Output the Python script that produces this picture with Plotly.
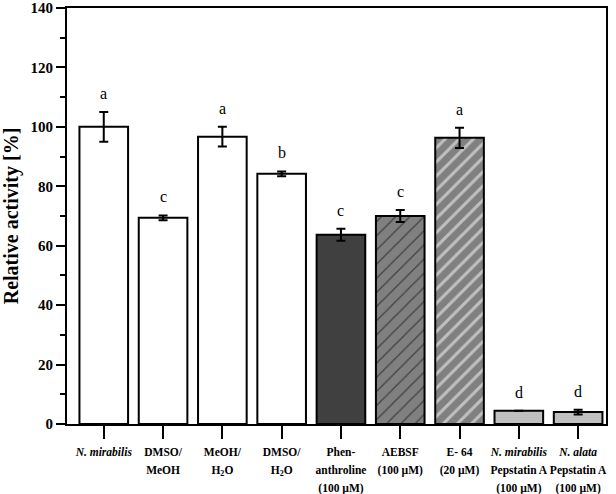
import plotly.graph_objects as go

labels = [
    "<i>N. mirabilis</i>",
    "DMSO/<br>MeOH",
    "MeOH/<br>H<sub>2</sub>O",
    "DMSO/<br>H<sub>2</sub>O",
    "Phen-<br>anthroline<br>(100 µM)",
    "AEBSF<br>(100 µM)",
    "E- 64<br>(20 µM)",
    "<i>N. mirabilis</i><br>Pepstatin A<br>(100 µM)",
    "<i>N. alata</i><br>Pepstatin A<br>(100 µM)",
]
values = [100.0, 69.4, 96.7, 84.2, 63.7, 70.0, 96.3, 4.5, 4.0]
errors = [5.0, 0.8, 3.3, 0.8, 2.0, 2.0, 3.4, 0.0, 0.8]
letters = ["a", "c", "a", "b", "c", "c", "a", "d", "d"]

fill_colors = ["white", "white", "white", "white", "#404040", "#808080", "#808080", "#c0c0c0", "#c0c0c0"]
hatch_shapes = ["", "", "", "", "", "/", "/", "", ""]
hatch_colors = ["black", "black", "black", "black", "black", "black", "white", "black", "black"]
hatch_solidity = [0.2, 0.2, 0.2, 0.2, 0.2, 0.12, 0.3, 0.2, 0.2]

xpos = list(range(len(labels)))
# smaller glyphs inside a larger line pitch
ticktext = ["<span style='font-size:11.5px'>" + "</span><br><span style='font-size:11.5px'>".join(l.split("<br>")) + "</span>"
            for l in labels]

fig = go.Figure()
for i in xpos:
    fig.add_trace(go.Bar(
        x=[xpos[i]], y=[values[i]], width=0.82,
        marker=dict(
            color=fill_colors[i],
            line=dict(color="black", width=2),
            pattern=dict(shape=hatch_shapes[i], fgcolor=hatch_colors[i], bgcolor=fill_colors[i],
                         size=10, solidity=hatch_solidity[i], fillmode="overlay"),
        ),
        error_y=dict(type="data", array=[errors[i]], visible=True, color="black", thickness=2, width=4.5),
        showlegend=False,
    ))

for x, v, e, t in zip(xpos, values, errors, letters):
    fig.add_annotation(x=x, y=v + e, text=t, showarrow=False, yanchor="bottom", yshift=8,
                       font=dict(family="Liberation Serif", size=16, color="black"))

fig.update_layout(
    width=616, height=494,
    margin=dict(l=67, r=10, t=8, b=70),
    plot_bgcolor="white", paper_bgcolor="white",
    barmode="overlay",
    font=dict(family="Liberation Serif", color="black"),
)
fig.update_xaxes(
    range=[-0.62, 8.47], tickvals=xpos, ticktext=ticktext, tickangle=0, automargin=False,
    ticks="outside", ticklen=13, tickwidth=2, tickcolor="black",
    showline=True, linewidth=2, linecolor="black", mirror=True,
    showgrid=False, zeroline=False,
    tickfont=dict(family="Liberation Serif", size=14, color="black", weight="bold"),
)
fig.update_yaxes(
    range=[0, 140], tickvals=[0, 20, 40, 60, 80, 100, 120, 140], automargin=False,
    ticks="outside", ticklen=9, tickwidth=2, tickcolor="black",
    minor=dict(dtick=10, ticks="outside", ticklen=5, tickwidth=2, tickcolor="black"),
    showline=True, linewidth=2, linecolor="black", mirror=True,
    showgrid=False, zeroline=False,
    tickfont=dict(family="Liberation Serif", size=15, color="black", weight="bold"),
    title=dict(text="Relative activity [%]", standoff=16,
               font=dict(family="Liberation Serif", size=20, color="black", weight="bold")),
)

fig.write_html("out.html", config={"displayModeBar": False},
               post_script="document.body.style.margin='0px';")
